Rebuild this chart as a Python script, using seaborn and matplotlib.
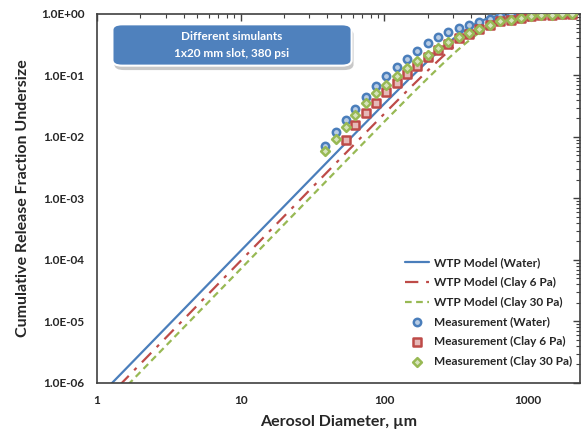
import numpy as np
import pandas as pd
import matplotlib
matplotlib.use("Agg")
import matplotlib.pyplot as plt
import seaborn as sns
from matplotlib.patches import FancyBboxPatch
from matplotlib.ticker import LogLocator, FixedLocator, FixedFormatter, NullFormatter

# ---------------- data ----------------
model_x = [1.0, 10, 50, 100, 150, 200, 250, 300, 350, 400, 450, 500, 600, 700, 800, 1000, 1500, 2300]
model_water = [5.6e-7, 1.41e-4, 6.7e-3, 0.0349, 0.0897, 0.171, 0.274, 0.391, 0.512, 0.628, 0.730,
               0.815, 0.927, 0.977, 0.9946, 0.9999, 1.0, 1.0]
model_clay6 = [3.85e-7, 9.7e-5, 4.6e-3, 0.0240, 0.0622, 0.120, 0.196, 0.288, 0.387, 0.491, 0.592,
               0.685, 0.833, 0.925, 0.972, 0.998, 1.0, 1.0]
model_clay30 = [2.84e-7, 7.15e-5, 3.4e-3, 0.0178, 0.0464, 0.090, 0.149, 0.222, 0.304, 0.393, 0.485,
                0.574, 0.734, 0.853, 0.928, 0.989, 1.0, 1.0]

meas_x = [38.3, 45.7, 53.6, 62.9, 75.0, 88.0, 103, 123, 144, 169, 202, 237, 278, 332, 389,
          457, 545, 639, 762, 894, 1050, 1231, 1468, 1722, 2021]
meas_water = [7.1e-3, 0.0121, 0.0189, 0.0285, 0.0447, 0.0674, 0.098, 0.137, 0.185, 0.25, 0.337,
              0.423, 0.51, 0.59, 0.66, 0.74, 0.83, 0.93, 0.96, 0.98, 0.99, 0.995, 1.0, 1.0, 1.0]
meas_clay6_x = meas_x[2:]
meas_clay6 = [8.9e-3, 0.0157, 0.0246, 0.0357, 0.054, 0.0755, 0.106, 0.143, 0.20, 0.26, 0.33,
              0.41, 0.48, 0.56, 0.66, 0.77, 0.80, 0.86, 0.93, 0.96, 0.98, 0.99, 1.0]
meas_clay30 = [5.9e-3, 9.3e-3, 0.0146, 0.0228, 0.0357, 0.0519, 0.070, 0.098, 0.130, 0.172, 0.215,
               0.28, 0.35, 0.42, 0.49, 0.57, 0.66, 0.77, 0.80, 0.86, 0.93, 0.96, 0.98, 0.99, 1.0]

x_ticks = [1, 10, 100, 1000]
x_tick_labels = ["1", "10", "100", "1000"]
y_ticks = [1e-6, 1e-5, 1e-4, 1e-3, 1e-2, 1e-1, 1e0]
y_tick_labels = ["1.0E-06", "1.0E-05", "1.0E-04", "1.0E-03", "1.0E-02", "1.0E-01", "1.0E+00"]

labels_model = ["WTP Model (Water)", "WTP Model (Clay 6 Pa)", "WTP Model (Clay 30 Pa)"]
labels_meas = ["Measurement (Water)", "Measurement (Clay 6 Pa)", "Measurement (Clay 30 Pa)"]
box_text = "Different simulants\n1x20 mm slot, 380 psi"

# ---------------- styling ----------------
sns.set_style("white")
plt.rcParams["font.family"] = ["Lato", "DejaVu Sans"]
plt.rcParams["font.weight"] = "bold"

blue, red, green = "#4A7EBB", "#BE4B48", "#98B954"
blue_f, red_f, green_f = "#B9CDE5", "#E6B9B8", "#D7E4BD"

fig = plt.figure(figsize=(5.86, 4.37), dpi=100)
ax = fig.add_axes([0.1655, 0.1236, 0.8245, 0.8444])

df_model = pd.DataFrame({"x": model_x, "water": model_water, "c6": model_clay6, "c30": model_clay30})

sns.lineplot(data=df_model, x="x", y="water", ax=ax, color=blue, lw=1.6,
             label=labels_model[0], zorder=2)
sns.lineplot(data=df_model, x="x", y="c6", ax=ax, color=red, lw=1.6,
             linestyle=(0, (6, 3.5, 1.5, 3.5)), label=labels_model[1], zorder=2)
sns.lineplot(data=df_model, x="x", y="c30", ax=ax, color=green, lw=1.6,
             linestyle=(0, (3, 2)), label=labels_model[2], zorder=2)

sns.scatterplot(x=meas_x, y=meas_water, ax=ax, marker="o", s=28, color=blue_f,
                edgecolor=blue, linewidth=1.8, label=labels_meas[0], zorder=3)
sns.scatterplot(x=meas_clay6_x, y=meas_clay6, ax=ax, marker="s", s=28, color=red_f,
                edgecolor=red, linewidth=1.8, label=labels_meas[1], zorder=3)
sns.scatterplot(x=meas_x, y=meas_clay30, ax=ax, marker="D", s=20, color=green_f,
                edgecolor=green, linewidth=1.8, label=labels_meas[2], zorder=4)

ax.set_xscale("log")
ax.set_yscale("log")
ax.set_xlim(1, 2300)
ax.set_ylim(1e-6, 1.0)

ax.xaxis.set_major_locator(FixedLocator(x_ticks))
ax.xaxis.set_major_formatter(FixedFormatter(x_tick_labels))
ax.yaxis.set_major_locator(FixedLocator(y_ticks))
ax.yaxis.set_major_formatter(FixedFormatter(y_tick_labels))
ax.xaxis.set_minor_locator(LogLocator(base=10, subs=np.arange(2, 10)))
ax.yaxis.set_minor_locator(LogLocator(base=10, subs=np.arange(2, 10)))
ax.xaxis.set_minor_formatter(NullFormatter())
ax.yaxis.set_minor_formatter(NullFormatter())

ax.tick_params(which="both", direction="in", top=True, right=True, color="#404040")
ax.tick_params(which="major", length=5, width=1, labelsize=8.5, pad=9)
ax.tick_params(which="minor", length=3, width=0.8)
for lab in ax.get_xticklabels() + ax.get_yticklabels():
    lab.set_fontweight("bold")
for sp in ax.spines.values():
    sp.set_color("#404040")
    sp.set_linewidth(1.2)
    sp.set_visible(True)

ax.set_xlabel("Aerosol Diameter, \u00b5m", fontsize=11.5, fontweight="bold", labelpad=6)
ax.set_ylabel("Cumulative Release Fraction Undersize", fontsize=11.5, fontweight="bold", labelpad=8)

leg = ax.legend(loc="lower right", bbox_to_anchor=(1.0, 0.02), frameon=False, fontsize=8.5,
                handlelength=2.0, labelspacing=0.75, handletextpad=0.4, borderaxespad=0.3)
for t in leg.get_texts():
    t.set_fontweight("bold")

# annotation box with shadow
bx, by, bw, bh = 0.032, 0.86, 0.495, 0.112
shadow = FancyBboxPatch((bx + 0.004, by - 0.012), bw, bh, transform=ax.transAxes,
                        boxstyle="round,pad=0,rounding_size=0.02", fc="#C8C8C8", ec="none",
                        zorder=5, mutation_aspect=0.75)
ax.add_patch(shadow)
box = FancyBboxPatch((bx, by), bw, bh, transform=ax.transAxes,
                     boxstyle="round,pad=0,rounding_size=0.02", fc="#4F81BD", ec="white",
                     lw=1.5, zorder=6, mutation_aspect=0.75)
ax.add_patch(box)
ax.text(bx + bw / 2, by + bh / 2, box_text, transform=ax.transAxes, ha="center", va="center",
        color="white", fontsize=8.5, fontweight="bold", linespacing=1.6, zorder=7)

fig.savefig("out.png", dpi=100)
